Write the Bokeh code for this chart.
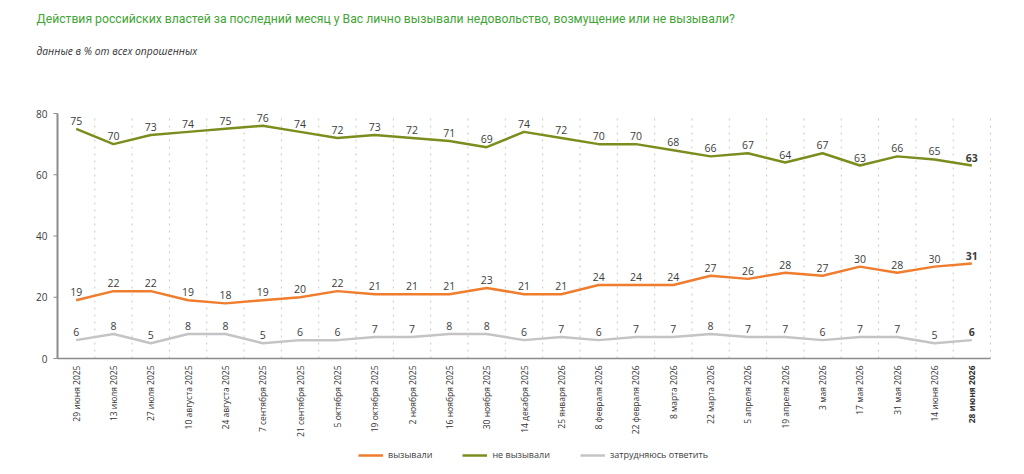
import math
from bokeh.plotting import figure
from bokeh.models import ColumnDataSource, LabelSet, Label, Legend, LegendItem
from bokeh.core.properties import value
from bokeh.embed import file_html
from bokeh.resources import INLINE

title = "Действия российских властей за последний месяц у Вас лично вызывали недовольство, возмущение или не вызывали?"
subtitle = "данные в % от всех опрошенных"

dates = ["29 июня 2025", "13 июля 2025", "27 июля 2025", "10 августа 2025", "24 августа 2025",
         "7 сентября 2025", "21 сентября 2025", "5 октября 2025", "19 октября 2025", "2 ноября 2025",
         "16 ноября 2025", "30 ноября 2025", "14 декабря 2025", "25 января 2026", "8 февраля 2026",
         "22 февраля 2026", "8 марта 2026", "22 марта 2026", "5 апреля 2026", "19 апреля 2026",
         "3 мая 2026", "17 мая 2026", "31 мая 2026", "14 июня 2026", "28 июня 2026"]

caused = [19, 22, 22, 19, 18, 19, 20, 22, 21, 21, 21, 23, 21, 21, 24, 24, 24, 27, 26, 28, 27, 30, 28, 30, 31]
not_caused = [75, 70, 73, 74, 75, 76, 74, 72, 73, 72, 71, 69, 74, 72, 70, 70, 68, 66, 67, 64, 67, 63, 66, 65, 63]
hard_to_say = [6, 8, 5, 8, 8, 5, 6, 6, 7, 7, 8, 8, 6, 7, 6, 7, 7, 8, 7, 7, 6, 7, 7, 5, 6]

series_names = ["вызывали", "не вызывали", "затрудняюсь ответить"]
y_ticks = [0, 20, 40, 60, 80]

colors = ["#ef7d2d", "#7b8d1d", "#c4c4c4"]
label_color = "#3c3c3c"
axis_color = "#8c8c8c"
font = "Open Sans"

n = len(dates)
xs = list(range(n))
y_top = y_ticks[-1]

# layout in pixels (figure coordinates)
W, H = 1016, 466
left_px, right_px, top_px, bottom_px = 57, 26, 113, 108
PXX = (W - left_px - right_px) / n
PXY = (H - top_px - bottom_px) / y_top
x0 = -0.5
x1 = n - 0.5

p = figure(width=W, height=H,
           x_range=(x0 - left_px / PXX, x1 + right_px / PXX),
           y_range=(-bottom_px / PXY, y_top + top_px / PXY),
           x_axis_type=None, y_axis_type=None,
           output_backend="svg", toolbar_location=None,
           min_border=0)
p.outline_line_color = None
p.grid.visible = False

# vertical dashed separators
gx = [i + 0.5 for i in xs]
p.segment(x0=gx, y0=[0] * n, x1=gx, y1=[y_top] * n, line_color="#c8c8c8",
          line_width=1, line_dash="2 5")

# axes drawn through data scales
p.segment(x0=[x0], y0=[0], x1=[x1], y1=[0], line_color=axis_color, line_width=1.5)
p.segment(x0=[x0], y0=[0], x1=[x0], y1=[y_top], line_color=axis_color, line_width=2)
p.segment(x0=[x0 - 4 / PXX] * len(y_ticks), y0=y_ticks, x1=[x0] * len(y_ticks), y1=y_ticks,
          line_color=axis_color, line_width=1)
ysrc = ColumnDataSource(dict(x=[x0] * len(y_ticks), y=y_ticks, t=[str(v) for v in y_ticks]))
p.add_layout(LabelSet(x="x", y="y", text="t", source=ysrc, x_offset=-10, text_align="right",
                      text_baseline="middle", text_font=value(font), text_font_size="10px",
                      text_color=label_color))

renderers = []
for vals, col in zip([caused, not_caused, hard_to_say], colors):
    r = p.line(xs, vals, line_color=col, line_width=2.5)
    renderers.append(r)
    src = ColumnDataSource(dict(x=xs[:-1], y=vals[:-1], t=[str(v) for v in vals[:-1]]))
    p.add_layout(LabelSet(x="x", y="y", text="t", source=src, text_align="center",
                          text_baseline="bottom", y_offset=4, text_font=value(font),
                          text_font_size="10.5px", text_color=label_color))
    src_last = ColumnDataSource(dict(x=xs[-1:], y=vals[-1:], t=[str(vals[-1])]))
    p.add_layout(LabelSet(x="x", y="y", text="t", source=src_last, text_align="center",
                          text_baseline="bottom", y_offset=4, text_font=value(font),
                          text_font_size="10.5px", text_font_style="bold", text_color=label_color))

xsrc = ColumnDataSource(dict(x=xs[:-1], y=[0] * (n - 1), t=dates[:-1]))
p.add_layout(LabelSet(x="x", y="y", text="t", source=xsrc, angle=math.pi / 2,
                      text_align="right", text_baseline="middle", y_offset=-7,
                      text_font=value(font), text_font_size="8.5px", text_color="#333333"))
xsrc_last = ColumnDataSource(dict(x=xs[-1:], y=[0], t=dates[-1:]))
p.add_layout(LabelSet(x="x", y="y", text="t", source=xsrc_last, angle=math.pi / 2,
                      text_align="right", text_baseline="middle", y_offset=-7,
                      text_font=value(font), text_font_size="8.5px", text_font_style="bold",
                      text_color="#333333"))

# title and subtitle
p.add_layout(Label(x=x0 - 21 / PXX, y=y_top + 95 / PXY, text=title, text_align="left",
                   text_baseline="middle", text_font="Roboto", text_font_size="12.2px",
                   text_color="#3fa535"))
p.add_layout(Label(x=x0 - 21 / PXX, y=y_top + 63 / PXY, text=subtitle, text_align="left",
                   text_baseline="middle", text_font=font, text_font_size="10.3px",
                   text_font_style="italic", text_color="#333333"))

legend = Legend(items=[LegendItem(label=nm, renderers=[r]) for nm, r in zip(series_names, renderers)],
                orientation="horizontal", location=(358, 5))
legend.border_line_color = None
legend.background_fill_alpha = 0
legend.glyph_width = 25
legend.glyph_height = 12
legend.label_text_font = font
legend.label_text_font_size = "9px"
legend.label_text_color = label_color
legend.label_height = 12
legend.spacing = 30
legend.label_standoff = 5
legend.padding = 0
legend.margin = 0
p.add_layout(legend, "center")

open("out.html", "w").write(file_html(p, INLINE))
